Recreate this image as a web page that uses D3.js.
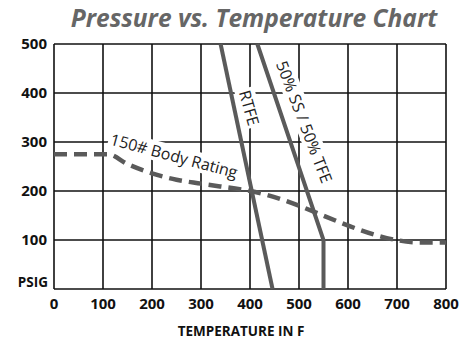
<!DOCTYPE html>
<html>
<head>
  <meta charset="utf-8">
  <script src="https://d3js.org/d3.v7.min.js"></script>
  <style>
    body { margin: 0; background: #fff; }
    svg text { font-family: "Open Sans", sans-serif; }
    .grid line { stroke: #111; stroke-width: 1.6; }
  </style>
</head>
<body>
<div id="chart"></div>
<script>
// ticks
let xTicks = [0, 100, 200, 300, 400, 500, 600, 700, 800];
let yTicks = [100, 200, 300, 400, 500];

// series: [temp F, psig]
let bodyRating = [[0, 275], [110, 275], [150, 255], [200, 236], [250, 223], [300, 215], [400, 200], [750, 95], [800, 95]];
let rtfe = [[340, 500], [446, 0]];
let ssTfe = [[415, 500], [550, 100], [550, 0]];

let width = 462, height = 344;
let margin = {top: 44, right: 16, bottom: 55, left: 54};

let svg = d3.select("#chart").append("svg")
    .attr("width", width)
    .attr("height", height);

let x = d3.scaleLinear().domain([0, 800]).range([margin.left, width - margin.right]);
let y = d3.scaleLinear().domain([0, 500]).range([height - margin.bottom, margin.top]);

// title
svg.append("text")
    .attr("x", 254).attr("y", 27)
    .attr("text-anchor", "middle")
    .style("font-size", "24.5px")
    .style("font-weight", "bold")
    .style("font-style", "italic")
    .attr("fill", "#666")
    .text("Pressure vs. Temperature Chart");

// grid
let grid = svg.append("g").attr("class", "grid");
grid.selectAll(".vx").data(xTicks).enter().append("line")
    .attr("x1", d => x(d)).attr("x2", d => x(d))
    .attr("y1", y(0)).attr("y2", y(500));
grid.selectAll(".hy").data([0].concat(yTicks)).enter().append("line")
    .attr("y1", d => y(d)).attr("y2", d => y(d))
    .attr("x1", x(0)).attr("x2", x(800));

// tick labels
svg.selectAll(".xl").data(xTicks).enter().append("text")
    .attr("x", d => x(d)).attr("y", y(0) + 20)
    .attr("text-anchor", "middle")
    .style("font-size", "15px").style("font-weight", "bold")
    .attr("fill", "#111")
    .text(d => d);

svg.selectAll(".yl").data(yTicks).enter().append("text")
    .attr("x", x(0) - 7).attr("y", d => y(d) + 5)
    .attr("text-anchor", "end")
    .style("font-size", "15px").style("font-weight", "bold")
    .attr("fill", "#111")
    .text(d => d);

svg.append("text")
    .attr("x", x(0) - 6).attr("y", y(0) - 2)
    .attr("text-anchor", "end")
    .style("font-size", "13.5px").style("font-weight", "bold")
    .attr("fill", "#111")
    .text("PSIG");

svg.append("text")
    .attr("x", 241).attr("y", 336)
    .attr("text-anchor", "middle")
    .style("font-size", "13.5px").style("font-weight", "bold")
    .attr("fill", "#111")
    .text("TEMPERATURE IN F");

let line = d3.line().x(d => x(d[0])).y(d => y(d[1]));
let curve = d3.line().x(d => x(d[0])).y(d => y(d[1])).curve(d3.curveMonotoneX);

// white halos behind the labels
function label(txt, cx, cy, angle, size) {
  let g = svg.append("g").attr("transform", "translate(" + cx + "," + cy + ") rotate(" + angle + ")");
  let t = g.append("text")
      .attr("text-anchor", "middle").attr("dy", "0.35em")
      .style("font-size", size + "px")
      .attr("fill", "#222")
      .text(txt);
  let b = t.node().getBBox();
  g.insert("rect", "text")
      .attr("x", b.x - 2).attr("y", b.y + 1)
      .attr("width", b.width + 4).attr("height", b.height - 2)
      .attr("fill", "#fff");
}

svg.append("path").datum(bodyRating)
    .attr("d", curve)
    .attr("fill", "none").attr("stroke", "#5a5a5a")
    .attr("stroke-width", 4.5).attr("stroke-dasharray", "13,7");

svg.append("path").datum(rtfe)
    .attr("d", line)
    .attr("fill", "none").attr("stroke", "#5a5a5a").attr("stroke-width", 4);

svg.append("path").datum(ssTfe)
    .attr("d", line)
    .attr("fill", "none").attr("stroke", "#5a5a5a").attr("stroke-width", 4);

label("150# Body Rating", 174, 156, 15, 16);
label("RTFE", 249, 108, 74, 16);
label("50% SS / 50% TFE", 304, 122, 69, 16);
</script>
</body>
</html>
